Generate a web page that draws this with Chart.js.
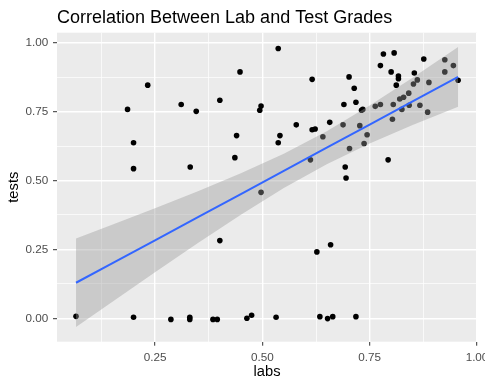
<!DOCTYPE html>
<html>
<head>
<meta charset="utf-8">
<script src="https://cdn.jsdelivr.net/npm/chart.js@4.4.1/dist/chart.umd.min.js"></script>
<style>
  body { margin: 0; background: #ffffff; }
  canvas { display: block; }
</style>
</head>
<body>
<canvas id="grades_chart" width="485" height="388"></canvas>
<script>
// lab score vs test score
const labs = [
  0.448, 0.233, 0.186, 0.311, 0.346, 0.401, 0.497, 0.494, 0.440, 0.200,
  0.436, 0.200, 0.332, 0.497, 0.537, 0.616, 0.702, 0.714, 0.690, 0.718,
  0.731, 0.734, 0.782, 0.807, 0.775, 0.800, 0.817, 0.817, 0.812, 0.854,
  0.876, 0.925, 0.945, 0.925, 0.956, 0.861, 0.852, 0.888, 0.841, 0.829,
  0.820, 0.805, 0.775, 0.763, 0.825, 0.842, 0.867, 0.885, 0.803, 0.688,
  0.727, 0.657, 0.579, 0.616, 0.623, 0.641, 0.744, 0.541, 0.537, 0.737,
  0.703, 0.612, 0.793, 0.693, 0.695, 0.066, 0.200, 0.287, 0.331, 0.331,
  0.385, 0.395, 0.464, 0.475, 0.401, 0.627, 0.659, 0.532, 0.634, 0.652,
  0.664, 0.718
];
const tests = [
  0.894, 0.846, 0.758, 0.776, 0.751, 0.791, 0.770, 0.755, 0.663, 0.637,
  0.583, 0.543, 0.549, 0.457, 0.979, 0.867, 0.876, 0.835, 0.776, 0.784,
  0.755, 0.758, 0.959, 0.963, 0.917, 0.894, 0.879, 0.869, 0.846, 0.890,
  0.941, 0.938, 0.917, 0.894, 0.864, 0.865, 0.850, 0.856, 0.817, 0.802,
  0.796, 0.776, 0.776, 0.769, 0.758, 0.773, 0.773, 0.748, 0.722, 0.702,
  0.699, 0.711, 0.702, 0.684, 0.687, 0.659, 0.666, 0.663, 0.637, 0.634,
  0.616, 0.575, 0.575, 0.549, 0.509, 0.007, 0.004, -0.004, 0.004, -0.004,
  -0.004, -0.004, 0.000, 0.011, 0.282, 0.241, 0.267, 0.004, 0.006, -0.001,
  0.006, 0.006
];

// smoother (lm) line and its confidence band
const bandX = [0.066, 0.15, 0.25, 0.35, 0.45, 0.55, 0.65, 0.75, 0.85, 0.956];
const fitY = [0.129, 0.199, 0.283, 0.367, 0.451, 0.535, 0.619, 0.703, 0.787, 0.876];
const bandHi = [0.290, 0.339, 0.399, 0.461, 0.526, 0.597, 0.679, 0.772, 0.873, 0.984];
const bandLo = [-0.032, 0.059, 0.167, 0.273, 0.376, 0.473, 0.559, 0.634, 0.701, 0.768];

const xMajor = [0.25, 0.5, 0.75, 1.0];
const xMinor = [0.125, 0.375, 0.625, 0.875];
const yMajor = [0, 0.25, 0.5, 0.75, 1.0];
const yMinor = [0.125, 0.375, 0.625, 0.875];

const toPoints = (xs, ys) => xs.map((x, i) => ({ x: x, y: ys[i] }));
const isMajor = (v) => xMajor.concat(yMajor).some((m) => Math.abs(m - v) < 1e-9);

const tickFont = { family: "'Liberation Sans', Arial, sans-serif", size: 11.7 };
const titleFont = { family: "'Liberation Sans', Arial, sans-serif", size: 14.7 };

const gridOpts = {
  color: "#ffffff",
  lineWidth: (ctx) => (ctx.tick && isMajor(ctx.tick.value) ? 1.4 : 0.7),
  tickColor: (ctx) => (ctx.tick && isMajor(ctx.tick.value) ? "#333333" : "rgba(0,0,0,0)"),
  tickLength: 4,
  tickWidth: 1,
};

const panelBg = {
  id: "panelBg",
  beforeDraw: (chart) => {
    const { ctx, chartArea } = chart;
    ctx.save();
    ctx.fillStyle = "#ebebeb";
    ctx.fillRect(chartArea.left, chartArea.top, chartArea.right - chartArea.left, chartArea.bottom - chartArea.top);
    ctx.restore();
  },
};

const plotTitle = {
  id: "plotTitle",
  afterDraw: (chart) => {
    const ctx = chart.ctx;
    ctx.save();
    ctx.font = "18px 'Liberation Sans', Arial, sans-serif";
    ctx.fillStyle = "#000000";
    ctx.textAlign = "left";
    ctx.textBaseline = "alphabetic";
    ctx.fillText("Correlation Between Lab and Test Grades", 57, 22.7);
    ctx.restore();
  },
};

const config = {
  type: "scatter",
  data: {
    datasets: [
      {
        label: "grades",
        data: toPoints(labs, tests),
        backgroundColor: "#000000",
        borderWidth: 0,
        pointRadius: 2.8,
        order: 3,
      },
      {
        type: "line",
        label: "upper",
        data: toPoints(bandX, bandHi),
        borderWidth: 0,
        borderColor: "rgba(0,0,0,0)",
        pointRadius: 0,
        backgroundColor: "rgba(153,153,153,0.4)",
        fill: "+1",
        order: 2,
      },
      {
        type: "line",
        label: "lower",
        data: toPoints(bandX, bandLo),
        borderWidth: 0,
        borderColor: "rgba(0,0,0,0)",
        pointRadius: 0,
        fill: false,
        order: 2,
      },
      {
        type: "line",
        label: "fit",
        data: toPoints(bandX, fitY),
        borderColor: "#3366ff",
        borderWidth: 2,
        pointRadius: 0,
        fill: false,
        order: 1,
      },
    ],
  },
  options: {
    responsive: false,
    animation: false,
    devicePixelRatio: 1,
    layout: { padding: { top: 32.7, right: 8, left: 0, bottom: 0 } },
    plugins: {
      legend: { display: false },
      tooltip: { enabled: false },
    },
    scales: {
      x: {
        type: "linear",
        min: 0.0217,
        max: 1.0,
        grid: gridOpts,
        border: { display: false },
        afterBuildTicks: (scale) => {
          scale.ticks = xMinor.concat(xMajor).sort((a, b) => a - b).map((v) => ({ value: v }));
        },
        afterFit: (scale) => {
          scale.height = 46.3;
          scale.paddingLeft = 0;
          scale.paddingRight = 0;
        },
        ticks: {
          autoSkip: false,
          maxRotation: 0,
          padding: 5,
          color: "#4d4d4d",
          font: tickFont,
          callback: (v) => (isMajor(v) ? v.toFixed(2) : ""),
        },
        title: {
          display: true,
          text: "labs",
          color: "#000000",
          font: titleFont,
          padding: { top: 0, bottom: 7.6 },
        },
      },
      y: {
        type: "linear",
        min: -0.0849,
        max: 1.0363,
        grid: gridOpts,
        border: { display: false },
        afterBuildTicks: (scale) => {
          scale.ticks = yMinor.concat(yMajor).sort((a, b) => a - b).map((v) => ({ value: v }));
        },
        afterFit: (scale) => {
          scale.width = 57;
          scale.paddingTop = 0;
          scale.paddingBottom = 0;
        },
        ticks: {
          autoSkip: false,
          padding: 4.7,
          color: "#4d4d4d",
          font: tickFont,
          callback: (v) => (isMajor(v) ? v.toFixed(2) : ""),
        },
        title: {
          display: true,
          text: "tests",
          color: "#000000",
          font: titleFont,
          padding: { top: 5.4, bottom: 0 },
        },
      },
    },
  },
  plugins: [panelBg, plotTitle],
};

new Chart("grades_chart", config);
</script>
</body>
</html>
